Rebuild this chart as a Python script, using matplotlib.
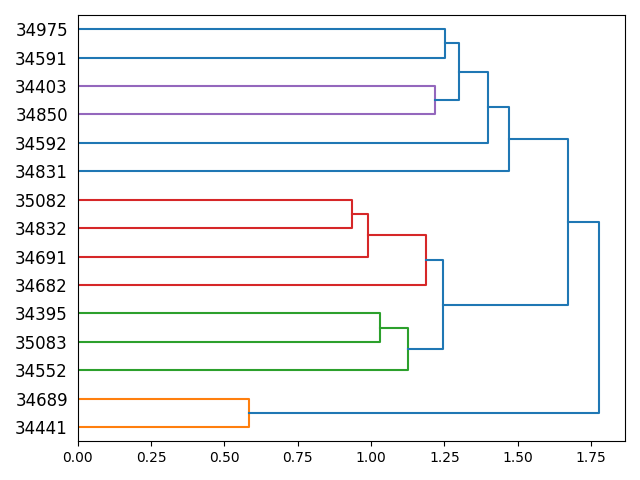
import matplotlib
matplotlib.use("Agg")
import matplotlib.pyplot as plt

# leaf labels, bottom to top
leaf_labels = ["34441", "34689", "34552", "35083", "34395", "34682", "34691",
               "34832", "35082", "34831", "34592", "34850", "34403", "34591", "34975"]

# merges: children ("L" leaf index / "M" merge index), height, colour
merge_left = ["L0", "L8", "M1", "M2", "L4", "M4", "M3", "L12", "L14", "M8", "M9", "M10", "M11", "M12"]
merge_right = ["L1", "L7", "L6", "L5", "L3", "L2", "M5", "L11", "L13", "M7", "L10", "L9", "M6", "M0"]
merge_height = [0.583, 0.934, 0.989, 1.186, 1.030, 1.126, 1.247, 1.218, 1.254,
                1.301, 1.400, 1.469, 1.671, 1.777]
merge_color = ["C1", "C3", "C3", "C3", "C2", "C2", "C0", "C4", "C0",
               "C0", "C0", "C0", "C0", "C0"]

fig, ax = plt.subplots(figsize=(6.4, 4.8), dpi=100)

leaf_y = [5 + 10 * i for i in range(len(leaf_labels))]
node_pos = {}


def pos(key):
    if key[0] == "L":
        return 0.0, leaf_y[int(key[1:])]
    return node_pos[key]


for i, (a, b, h, c) in enumerate(zip(merge_left, merge_right, merge_height, merge_color)):
    xa, ya = pos(a)
    xb, yb = pos(b)
    ax.plot([xa, h, h, xb], [ya, ya, yb, yb], color=c, lw=1.5)
    node_pos["M%d" % i] = (h, (ya + yb) / 2)

ax.set_xlim(0, max(merge_height) * 1.05)
ax.set_ylim(0, 10 * len(leaf_labels))
ax.set_yticks(leaf_y)
ax.set_yticklabels(leaf_labels, fontsize=12)
for line in ax.get_yticklines():
    line.set_visible(False)

fig.tight_layout()
fig.savefig("out.png")
